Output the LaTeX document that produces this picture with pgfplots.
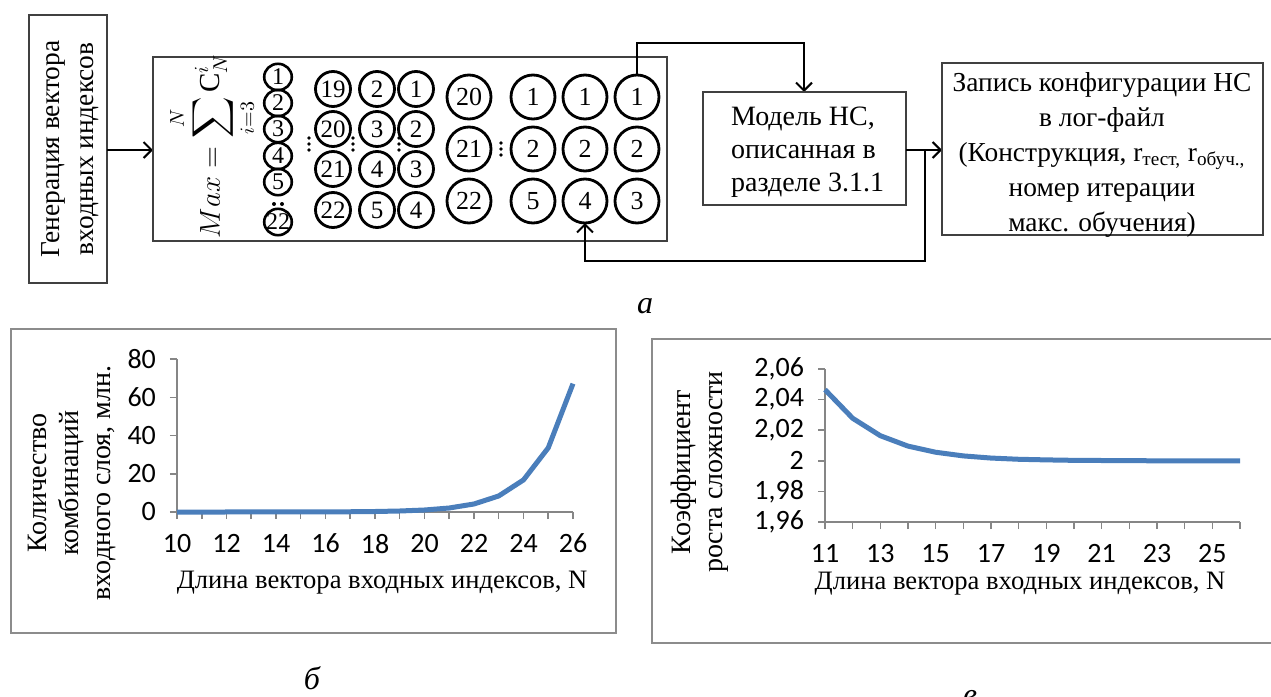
\documentclass[border=0pt]{standalone}
\usepackage{exscale}
\usepackage{fontspec}
\setmainfont{Liberation Serif}
\newfontfamily\carlito{Carlito}
\usepackage{pgfplots}
\pgfplotsset{compat=1.18}
\usetikzlibrary{arrows.meta}
\definecolor{axgray}{HTML}{868686}
\definecolor{frgray}{HTML}{8C8C8C}
\definecolor{lineblue}{HTML}{4A7EBB}
\definecolor{boxgray}{HTML}{404040}
\newcommand\tfont{\carlito\fontsize{14}{15}\selectfont}
\newcommand\lfont{\fontsize{13.3}{16}\selectfont}
\newcommand\yfont{\fontsize{14}{16}\selectfont}

\pgfplotstableread{
N val
10 0.000968
11 0.001981
12 0.004017
13 0.008100
14 0.016278
15 0.032647
16 0.065399
17 0.130918
18 0.261972
19 0.524097
20 1.048365
21 2.096920
22 4.194050
23 8.388331
24 16.776915
25 33.554106
26 67.108512
}\combtable

\pgfplotstableread{
N val
11 2.0465
12 2.0278
13 2.0164
14 2.0096
15 2.0056
16 2.0032
17 2.0018
18 2.0010
19 2.0006
20 2.0003
21 2.0002
22 2.0001
23 2.0000
24 2.0000
25 2.0000
26 2.0000
}\ratiotable

\pgfplotsset{
  excel/.style={
    scale only axis,
    axis lines=left,
    axis line style={-, draw=axgray, line width=0.75pt},
    tick align=outside,
    major tick length=3.5pt,
    minor tick length=3.5pt,
    tick style={draw=axgray, line width=0.75pt},
    ticklabel style={font=\tfont},
    /pgf/number format/assume math mode=true,
    xticklabel style={yshift=-4pt},
    yticklabel style={xshift=-3.5pt},
    clip=false,
    xlabel style={font=\lfont, anchor=center},
    ylabel style={font=\yfont, anchor=center, align=center},
  }
}

\begin{document}
\begin{tikzpicture}
\useasboundingbox (0,0) rectangle (635.5pt,-348.5pt);
\begin{scope}[x=0.5pt,y=-0.5pt,
  box/.style={draw=boxgray, line width=1pt},
  conn/.style={draw=black, line width=1pt},
  arr/.style={-{Straight Barb[length=4pt,width=8pt]}},
  circS/.style={circle, draw, line width=1.4pt, minimum size=17.5pt, inner sep=0pt, font=\fontsize{12.5}{13}\selectfont},
  circL/.style={circle, draw, line width=1.4pt, minimum size=22pt, inner sep=0pt, font=\fontsize{13}{14}\selectfont}]
  % box 1
  \draw[box] (29,15) rectangle (107,283);
  \node[rotate=90, align=center, font=\fontsize{13.7}{17}\selectfont] at (70,149) {Генерация вектора\\входных индексов};
  \draw[conn,arr] (107,150) -- (153,150);
  % main box
  \draw[box] (153,57) rectangle (667,241);
  \node[rotate=90, font=\fontsize{14.5}{18}\selectfont] at (212,146) {$\displaystyle Max=\sum_{i=3}^{N}\mathrm{C}_N^i$};
  % column 1
  \foreach \y/\t in {77/1,103/2,129/3,156/4,182/5,222/22} {
    \draw[line width=1.3pt] (278,\y) ellipse [x radius=6.9pt, y radius=6.6pt];
    \node[font=\fontsize{12}{12}\selectfont, inner sep=0pt] at (278,\y) {\t};
  }
  \fill (274,204) circle (1pt);
  \fill (282,204) circle (1pt);
  % columns 2-4
  \foreach \y/\a/\b/\c in {89/19/2/1,129/20/3/2,169/21/4/3,210/22/5/4} {
    \node[circS] at (333,\y) {\a};
    \node[circS] at (377,\y) {\b};
    \node[circS] at (416,\y) {\c};
  }
  \foreach \x in {309,353,399} {
    \fill (\x,138) circle (0.9pt);
    \fill (\x,144) circle (0.9pt);
    \fill (\x,150) circle (0.9pt);
  }
  % columns 5-8
  \foreach \y/\a/\b/\c/\d in {97/20/1/1/1,149/21/2/2/2,201/22/5/4/3} {
    \node[circL] at (469,\y) {\a};
    \node[circL] at (533,\y) {\b};
    \node[circL] at (585,\y) {\c};
    \node[circL] at (637,\y) {\d};
  }
  \fill (501,143) circle (0.9pt);
  \fill (501,149) circle (0.9pt);
  \fill (501,155) circle (0.9pt);
  % connections
  \draw[conn,arr] (637,75) -- (637,43) -- (804,43) -- (804,92);
  \draw[box] (703,92) rectangle (906,205);
  \node[anchor=west, align=left, font=\fontsize{14}{16.5}\selectfont] at (724,152) {Модель НС,\\описанная в\\разделе 3.1.1};
  \draw[conn,arr] (906,150) -- (942,150);
  \draw[conn,arr] (925,150) -- (925,261) -- (585,261) -- (585,223);
  \draw[box] (942,63) rectangle (1263,235);
  \node[align=center, font=\fontsize{13.7}{17.5}\selectfont] at (1102,155)
    {Запись конфигурации НС\\в лог-файл\\(Конструкция, r\textsubscript{тест,} r\textsubscript{обуч.,}\\номер итерации\\макс. обучения)};
  % captions
  \node[font=\fontsize{16}{18}\selectfont\itshape] at (645,306) {а};
  \node[font=\fontsize{16}{18}\selectfont\itshape] at (312,678) {б};
  \node[font=\fontsize{16}{18}\selectfont\itshape] at (970,698) {в};
  % chart frames
  \draw[frgray, line width=1pt] (11,329) rectangle (616,633);
  \draw[frgray, line width=1pt] (652,339) rectangle (1290,643);
\end{scope}

\begin{axis}[excel,
  at={(88.5pt,-256pt)}, anchor=south west,
  width=198pt, height=76.5pt,
  xmin=10, xmax=26, ymin=0, ymax=80,
  xtick={10,12,...,26}, minor xtick={11,13,...,25},
  ytick={0,20,40,60,80},
  xlabel={Длина вектора входных индексов, N},
  ylabel={Количество\\комбинаций\\входного слоя, млн.},
  xlabel style={at={(axis description cs:0.518,-0.464)}},
  ylabel style={at={(axis description cs:-0.265,0.19)}},
]
\addplot[lineblue, line width=2.5pt, line join=round] table[x=N, y=val] {\combtable};
\end{axis}

\begin{axis}[excel,
  at={(412.5pt,-261pt)}, anchor=south west,
  width=207.5pt, height=76.5pt,
  xmin=11, xmax=26, ymin=1.96, ymax=2.06,
  xtick={11,13,...,25}, minor xtick={12,14,...,26},
  ytick={1.96,1.98,2,2.02,2.04,2.06},
  yticklabels={{1,96},{1,98},{2},{2,02},{2,04},{2,06}},
  xlabel={Длина вектора входных индексов, N},
  ylabel={Коэффициент\\роста сложности},
  xlabel style={at={(axis description cs:0.47,-0.40)}},
  ylabel style={at={(axis description cs:-0.301,0.327)}},
]
\addplot[lineblue, line width=2.5pt, line join=round] table[x=N, y=val] {\ratiotable};
\end{axis}
\end{tikzpicture}
\end{document}
